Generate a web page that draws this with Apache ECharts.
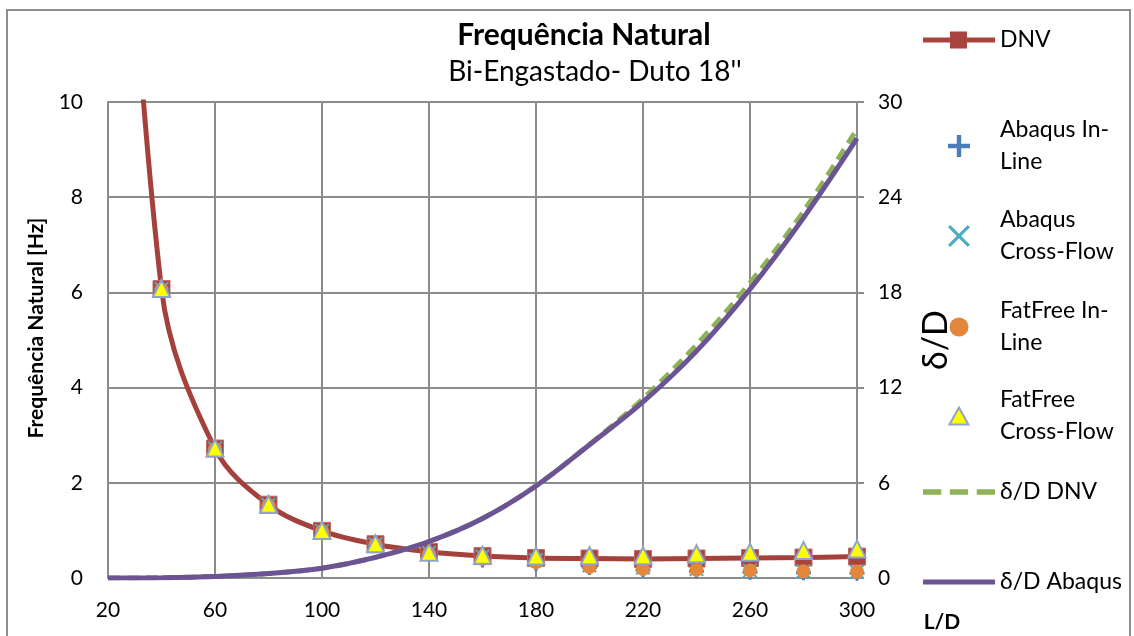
<!DOCTYPE html>
<html>
<head>
<meta charset="utf-8">
<script src="https://cdn.jsdelivr.net/npm/echarts@6/dist/echarts.min.js"></script>
<style>
html,body{margin:0;padding:0;background:#fff;}
#c{width:1134px;height:636px;}
</style>
</head>
<body>
<div id="c"></div>
<script>
// ---- data ----
var LD = [20, 40, 60, 80, 100, 120, 140, 160, 180, 200, 220, 240, 260, 280, 300];
var X_TICKS = [20, 60, 100, 140, 180, 220, 260, 300];
var DNV = [22.0, 6.07, 2.72, 1.54, 0.99, 0.71, 0.55, 0.46, 0.42, 0.41, 0.40, 0.41, 0.42, 0.43, 0.45];
var ABAQUS_IL = [null, 6.05, 2.70, 1.52, 0.97, 0.69, 0.50, 0.38, 0.30, 0.22, 0.17, 0.14, 0.12, 0.11, 0.10];
var ABAQUS_CF = [null, 6.07, 2.72, 1.54, 0.99, 0.71, 0.53, 0.45, 0.38, 0.27, 0.22, 0.19, 0.16, 0.14, 0.13];
var FATFREE_IL = [null, 6.06, 2.71, 1.53, 0.98, 0.70, 0.51, 0.40, 0.33, 0.23, 0.19, 0.17, 0.16, 0.14, 0.13];
var FATFREE_CF = [null, 6.08, 2.73, 1.55, 1.00, 0.72, 0.54, 0.48, 0.46, 0.47, 0.47, 0.51, 0.54, 0.58, 0.61];
var DD_DNV = [0, 0.02, 0.10, 0.28, 0.62, 1.30, 2.30, 3.75, 5.81, 8.42, 11.3, 14.7, 18.6, 23.1, 28.3];
var DD_ABAQUS = [0, 0.02, 0.10, 0.28, 0.62, 1.30, 2.30, 3.75, 5.80, 8.4, 11.1, 14.3, 18.2, 22.7, 27.7];
var LEFT_TICKS = [0, 2, 4, 6, 8, 10];
var RIGHT_TICKS = [0, 6, 12, 18, 24, 30];
var NAMES = ['DNV', 'Abaqus In-\nLine', 'Abaqus\nCross-Flow', 'FatFree In-\nLine', 'FatFree\nCross-Flow', 'δ/D DNV', 'δ/D Abaqus'];

function pairs(ys) {
  var out = [];
  for (var i = 0; i < LD.length; i++) {
    if (ys[i] !== null && ys[i] !== undefined) out.push([LD[i], ys[i]]);
  }
  return out;
}

var FONT = 'Lato, "Open Sans", sans-serif';
var GRID_C = '#8c8c8c';
var PLUS = 'path://M4,0h2v4h4v2h-4v4h-2v-4h-4v-2h4z';
var CROSS = 'path://M1,0L5,4L9,0L10,1L6,5L10,9L9,10L5,6L1,10L0,9L4,5L0,1Z';
var TRI = 'path://M5,0L10,9L0,9Z';
var ICON_DNV = 'path://M0,8h27v5h-27z M27,2h17v17h-17z M44,8h28v5h-28z';
var ICON_DASH = 'path://M0,0h17v5h-17z M25,0h17v5h-17z M50,0h17v5h-17z';
var ICON_SOLID = 'path://M0,0h72v5h-72z';

// legend item layout: icon, icon height, left offset of icon's drawn box inside 72px slot, centre y
var LEG_ICON = [ICON_DNV, PLUS, CROSS, 'circle', TRI, ICON_DASH, ICON_SOLID];
var LEG_H = [21, 22, 22, 19, 17, 21, 21];
var LEG_OFF = [0, 25, 25, 26.5, 25.5, 0, 0];
var LEG_CY = [40, 146, 236, 327, 416, 492, 582];
var legends = NAMES.map(function (n, i) {
  var lines = n.split('\n').length;
  var h = Math.max(lines * 32, LEG_H[i]);
  var item = { name: n, icon: LEG_ICON[i] };
  if (i === 0 || i >= 5) item.itemStyle = { borderWidth: 0 };
  return {
    data: [item],
    orient: 'vertical',
    left: 923 + LEG_OFF[i],
    top: LEG_CY[i] - h / 2,
    padding: 0,
    itemWidth: 72,
    itemHeight: LEG_H[i],
    selectedMode: false,
    textStyle: { fontFamily: FONT, fontSize: 23, color: '#000', lineHeight: 32 }
  };
});

var chart = echarts.init(document.getElementById('c'), null, { renderer: 'canvas' });
chart.setOption({
  backgroundColor: '#fff',
  animation: false,
  grid: { left: 108, right: 277, top: 102, bottom: 58, containLabel: false },
  legend: legends,
  graphic: [
    { type: 'rect', shape: { x: 7, y: 10, width: 1123, height: 640 }, style: { fill: 'none', stroke: '#8e8e8e', lineWidth: 2 }, silent: true, z: -10 },
    { type: 'text', x: 584, y: 35, style: { text: 'Frequência Natural', font: 'bold 30px ' + FONT, fill: '#000', textAlign: 'center', textVerticalAlign: 'middle' } },
    { type: 'text', x: 595, y: 72, style: { text: "Bi-Engastado- Duto 18''", font: '28px ' + FONT, fill: '#000', textAlign: 'center', textVerticalAlign: 'middle' } },
    { type: 'text', x: 942, y: 622, style: { text: 'L/D', font: 'bold 21px ' + FONT, fill: '#000', textAlign: 'center', textVerticalAlign: 'middle' } }
  ],
  xAxis: {
    type: 'value', min: X_TICKS[0], max: X_TICKS[X_TICKS.length - 1], interval: X_TICKS[1] - X_TICKS[0],
    axisLine: { show: true, lineStyle: { color: GRID_C, width: 2 } },
    axisTick: { show: false },
    splitLine: { show: true, lineStyle: { color: GRID_C, width: 2 } },
    axisLabel: { fontFamily: FONT, fontSize: 21, color: '#000', margin: 22 }
  },
  yAxis: [
    {
      type: 'value', min: LEFT_TICKS[0], max: LEFT_TICKS[LEFT_TICKS.length - 1], interval: LEFT_TICKS[1] - LEFT_TICKS[0],
      name: 'Frequência Natural [Hz]', nameLocation: 'middle', nameGap: 61, nameRotate: 90,
      nameTextStyle: { fontFamily: FONT, fontSize: 21, fontWeight: 'bold', color: '#000', padding: [0, 0, 0, 24] },
      axisLine: { show: true, lineStyle: { color: GRID_C, width: 2 } },
      axisTick: { show: false },
      splitLine: { show: true, lineStyle: { color: GRID_C, width: 2 } },
      axisLabel: { fontFamily: FONT, fontSize: 21, color: '#000', margin: 25 }
    },
    {
      type: 'value', min: RIGHT_TICKS[0], max: RIGHT_TICKS[RIGHT_TICKS.length - 1], interval: RIGHT_TICKS[1] - RIGHT_TICKS[0],
      position: 'right',
      name: 'δ/D', nameLocation: 'middle', nameGap: 62, nameRotate: 90,
      nameTextStyle: { fontFamily: FONT, fontSize: 34, color: '#000' },
      axisLine: { show: true, lineStyle: { color: GRID_C, width: 2 } },
      axisTick: { show: true, inside: false, length: 7, lineStyle: { color: GRID_C, width: 2 } },
      splitLine: { show: false },
      axisLabel: { fontFamily: FONT, fontSize: 21, color: '#000', margin: 21 }
    }
  ],
  series: [
    {
      name: NAMES[0], type: 'line', data: pairs(DNV), smooth: 0.35, clip: true,
      symbol: 'rect', symbolSize: 17,
      lineStyle: { color: '#A5413C', width: 5 },
      itemStyle: { color: '#A9433E', borderColor: '#C46A65', borderWidth: 1 },
      z: 2
    },
    {
      name: NAMES[1], type: 'scatter', data: pairs(ABAQUS_IL),
      symbol: PLUS, symbolSize: 15,
      itemStyle: { color: '#4A7EBB', opacity: 1 }, z: 3
    },
    {
      name: NAMES[2], type: 'scatter', data: pairs(ABAQUS_CF),
      symbol: CROSS, symbolSize: 15,
      itemStyle: { color: '#4BACC6', opacity: 1 }, z: 3
    },
    {
      name: NAMES[3], type: 'scatter', data: pairs(FATFREE_IL),
      symbol: 'circle', symbolSize: 14,
      itemStyle: { color: '#E2873C', opacity: 1 }, z: 3
    },
    {
      name: NAMES[4], type: 'scatter', data: pairs(FATFREE_CF),
      symbol: TRI, symbolSize: 17,
      itemStyle: { color: '#FFFF00', borderColor: '#8EA4CC', borderWidth: 2, opacity: 1 }, z: 3
    },
    {
      name: NAMES[5], type: 'line', yAxisIndex: 1, data: pairs(DD_DNV), smooth: 0.35,
      symbol: 'none', showSymbol: false,
      lineStyle: { color: '#8DB257', width: 5, type: [12, 7] },
      itemStyle: { color: '#8DB257' }, z: 4
    },
    {
      name: NAMES[6], type: 'line', yAxisIndex: 1, data: pairs(DD_ABAQUS), smooth: 0.35,
      symbol: 'none', showSymbol: false,
      lineStyle: { color: '#6C5494', width: 5 },
      itemStyle: { color: '#6C5494' }, z: 4
    }
  ]
});
</script>
</body>
</html>
